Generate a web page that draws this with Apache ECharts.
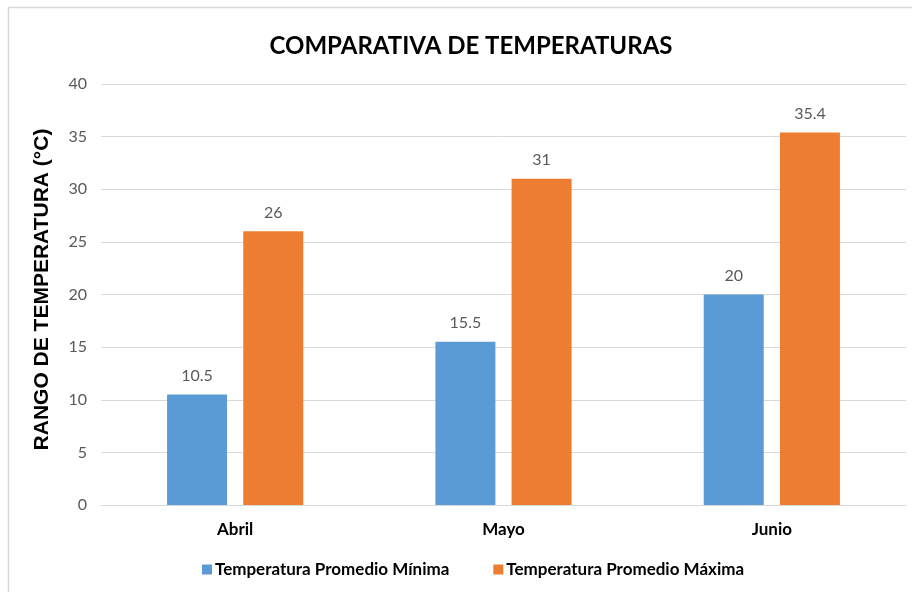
<!DOCTYPE html>
<html>
<head>
<meta charset="utf-8">
<script src="https://cdn.jsdelivr.net/npm/echarts@6/dist/echarts.min.js"></script>
<style>
  body { margin: 0; background: #fff; }
  #main { width: 912px; height: 592px; }
</style>
</head>
<body>
<div id="main"></div>
<script>
var months = ["Abril", "Mayo", "Junio"];
var tempMin = [10.5, 15.5, 20];
var tempMax = [26, 31, 35.4];

var chart = echarts.init(document.getElementById('main'));

var labelStyle = {
	show: true,
	position: 'top',
	distance: 11,
	color: '#595959',
	fontFamily: 'Lato',
	fontSize: 16
};

var option = {
	animation: false,
	graphic: [
		{
			type: 'rect',
			shape: { x: 8.5, y: 7.5, width: 1000, height: 700 },
			style: { fill: 'none', stroke: '#d9d9d9', lineWidth: 1.5 },
			silent: true
		}
	],
	title: {
		text: 'COMPARATIVA DE TEMPERATURAS',
		left: 466,
		top: 29,
		textAlign: 'center',
		textStyle: {
			fontFamily: 'Lato',
			fontWeight: 'bold',
			fontSize: 24,
			color: '#000'
		}
	},
	legend: {
		bottom: 9,
		left: 197,
		itemWidth: 10,
		itemHeight: 10,
		itemGap: 44,
		icon: 'rect',
		textStyle: {
			fontFamily: 'Lato',
			fontWeight: 'bold',
			fontSize: 17,
			color: '#000',
			padding: [0, 0, 0, -2]
		},
		data: ['Temperatura Promedio Mínima', 'Temperatura Promedio Máxima']
	},
	grid: {
		left: 101,
		right: 6,
		top: 84,
		bottom: 87
	},
	xAxis: {
		type: 'category',
		data: months,
		axisLine: { lineStyle: { color: '#d9d9d9' } },
		axisTick: { show: false },
		axisLabel: {
			margin: 16,
			fontFamily: 'Lato',
			fontWeight: 'bold',
			fontSize: 17,
			color: '#000'
		}
	},
	yAxis: {
		type: 'value',
		min: 0,
		max: 40,
		interval: 5,
		name: 'RANGO DE TEMPERATURA (°C)',
		nameLocation: 'middle',
		nameGap: 48,
		nameTextStyle: {
			fontFamily: 'Liberation Sans',
			fontWeight: 'bold',
			fontSize: 21,
			color: '#000',
			padding: [0, 0, 0, 10]
		},
		axisLine: { show: false },
		axisTick: { show: false },
		splitLine: { lineStyle: { color: '#d9d9d9' } },
		axisLabel: {
			margin: 14,
			fontFamily: 'Lato',
			fontSize: 16,
			color: '#595959'
		}
	},
	series: [
		{
			name: 'Temperatura Promedio Mínima',
			type: 'bar',
			data: tempMin,
			barWidth: 60,
			barGap: '27%',
			itemStyle: { color: '#5b9bd5' },
			label: labelStyle
		},
		{
			name: 'Temperatura Promedio Máxima',
			type: 'bar',
			data: tempMax,
			barWidth: 60,
			barGap: '27%',
			itemStyle: { color: '#ed7d31' },
			label: labelStyle
		}
	]
};

chart.setOption(option);
</script>
</body>
</html>
